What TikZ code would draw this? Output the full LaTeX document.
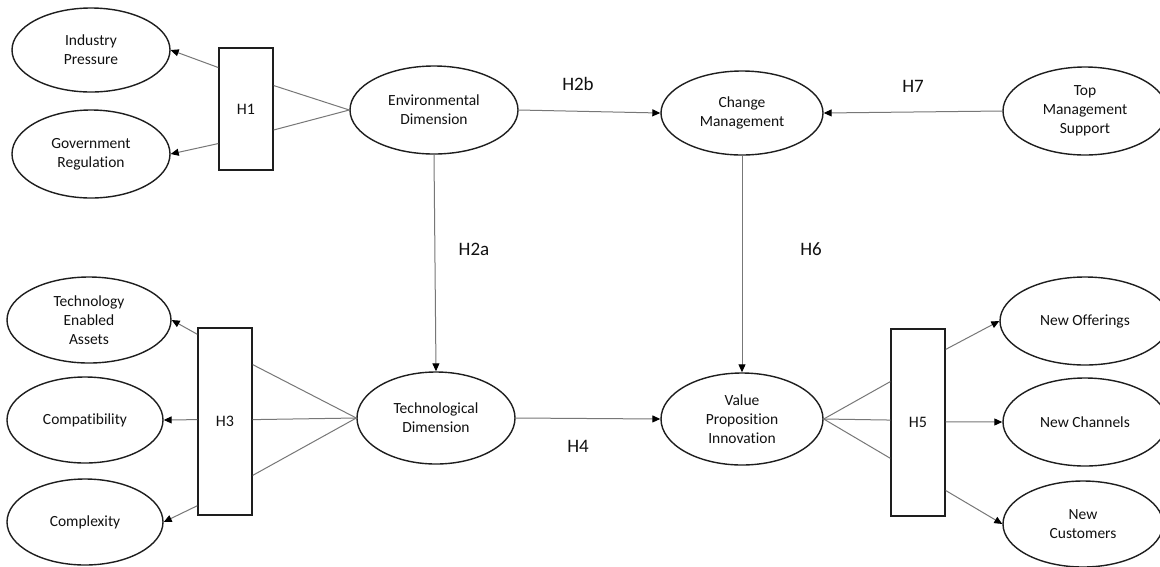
\documentclass[tikz,border=0pt]{standalone}
\usepackage{fontspec}
\setmainfont{Carlito}[Ligatures=NoCommon]
\usetikzlibrary{shapes.geometric,arrows.meta,calc}
\definecolor{lineg}{HTML}{777777}
\definecolor{edgek}{HTML}{1E1E1E}
\definecolor{txtk}{HTML}{111111}
\begin{document}
\begin{tikzpicture}[x=1pt,y=-1pt,
  oval/.style={ellipse,draw=edgek,line width=1.4pt,inner sep=0pt,align=center,
    text=txtk,font=\fontsize{15.5}{19}\selectfont},
  hbox/.style={rectangle,draw=edgek,line width=1.4pt,inner sep=0pt,
    text=txtk,font=\fontsize{16}{19}\selectfont},
  hlab/.style={text=txtk,font=\fontsize{19}{22}\selectfont,inner sep=0pt},
  conn/.style={draw=lineg,line width=1pt},
  arr/.style={conn,-{Triangle[length=8pt,width=7pt,fill=black,color=black]}}
]
\useasboundingbox (0,0) rectangle (1160,566);
\fill[white] (0,0) rectangle (1160,566);

% ellipses
\node[oval,minimum width=158pt,minimum height=84pt] (IP) at (91,50) {Industry\\Pressure};
\node[oval,minimum width=158pt,minimum height=88pt] (GR) at (91,154) {Government\\Regulation};
\node[oval,minimum width=168pt,minimum height=88pt] (Env) at (434,110) {Environmental\\Dimension};
\node[oval,minimum width=162pt,minimum height=84pt] (CM) at (742,113) {Change\\Management};
\node[oval,minimum width=164pt,minimum height=88pt] (TMS) at (1085,111) {Top\\Management\\Support};

\node[oval,minimum width=164pt,minimum height=86pt] (TEA) at (89,320) {Technology\\Enabled\\Assets};
\node[oval,minimum width=156pt,minimum height=86pt] (Comp) at (85,420) {Compatibility};
\node[oval,minimum width=156pt,minimum height=86pt] (Cplx) at (85,522) {Complexity};
\node[oval,minimum width=158pt,minimum height=92pt] (TD) at (436,418) {Technological\\Dimension};
\node[oval,minimum width=162pt,minimum height=92pt] (VPI) at (742,419) {Value\\Proposition\\Innovation};

\node[oval,minimum width=170pt,minimum height=88pt] (NO) at (1085,321) {New Offerings};
\node[oval,minimum width=164pt,minimum height=88pt] (NC) at (1085,422) {New Channels};
\node[oval,minimum width=160pt,minimum height=86pt] (NCu) at (1083,524) {New\\Customers};

% boxes
\node[hbox,minimum width=54pt,minimum height=122pt] (H1) at (246,109) {H1};
\node[hbox,minimum width=54pt,minimum height=187pt] (H3) at (225,421.5) {H3};
\node[hbox,minimum width=54pt,minimum height=187pt] (H5) at (918,422.5) {H5};

% labels
\node[hlab] (lH2b) at (578,84) {H2b};
\node[hlab] (lH7) at (913,86) {H7};
\node[hlab] (lH2a) at (474,249) {H2a};
\node[hlab] (lH6) at (811,249) {H6};
\node[hlab] (lH4) at (578,446) {H4};

% H1 connectors
\draw[arr] ($(H1.north west)!0.164!(H1.south west)$) -- (IP.east);
\draw[arr] ($(H1.north west)!0.78!(H1.south west)$) -- (GR.east);
\draw[conn] ($(H1.north east)!0.31!(H1.south east)$) -- (Env.west);
\draw[conn] ($(H1.north east)!0.67!(H1.south east)$) -- (Env.west);

% H3 connectors
\draw[arr] ($(H3.north west)!0.037!(H3.south west)$) -- (TEA.east);
\draw[arr] ($(H3.north west)!0.49!(H3.south west)$) -- (Comp.east);
\draw[arr] ($(H3.north west)!0.947!(H3.south west)$) -- (Cplx.east);
\draw[conn] ($(H3.north east)!0.198!(H3.south east)$) -- (TD.west);
\draw[conn] ($(H3.north east)!0.49!(H3.south east)$) -- (TD.west);
\draw[conn] ($(H3.north east)!0.786!(H3.south east)$) -- (TD.west);

% H5 connectors
\draw[conn] (VPI.east) -- ($(H5.north west)!0.283!(H5.south west)$);
\draw[conn] (VPI.east) -- ($(H5.north west)!0.487!(H5.south west)$);
\draw[conn] (VPI.east) -- ($(H5.north west)!0.69!(H5.south west)$);
\draw[arr] ($(H5.north east)!0.112!(H5.south east)$) -- (NO.west);
\draw[arr] ($(H5.north east)!0.497!(H5.south east)$) -- (NC.west);
\draw[arr] ($(H5.north east)!0.861!(H5.south east)$) -- (NCu.west);

% main paths
\draw[arr] (Env.east) -- (CM.west);
\draw[arr] (TMS.west) -- (CM.east);
\draw[arr] (Env.south) -- (TD.north);
\draw[arr] (CM.south) -- (VPI.north);
\draw[arr] (TD.east) -- (VPI.west);
\end{tikzpicture}
\end{document}
